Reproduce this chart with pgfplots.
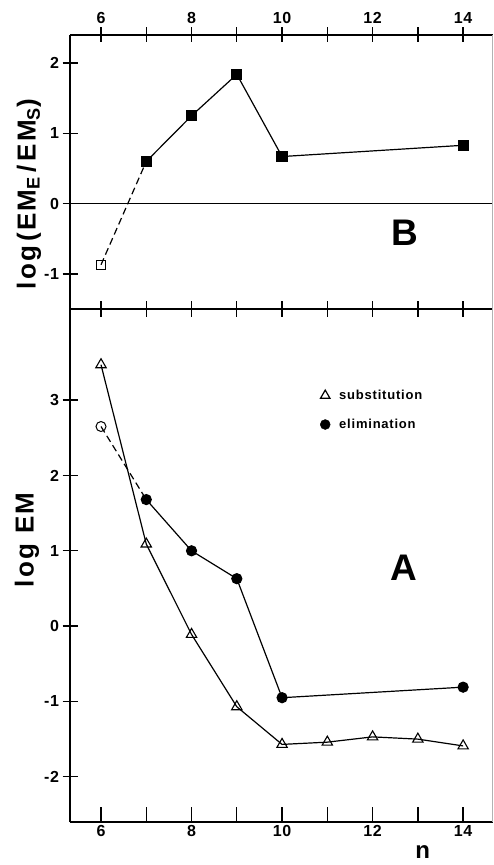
\documentclass[border=0pt]{standalone}
\usepackage{fontspec}
\setmainfont{Liberation Sans}
\usepackage{pgfplots}
\pgfplotsset{compat=1.18}
\pgfplotsset{
  common/.style={
    scale only axis,
    width=423pt,
    xmin=5.315, xmax=14.66,
    tick align=inside,
    major tick length=15pt,
    every tick/.style={black, line width=1.3pt},
    tick label style={font=\fontsize{16}{16}\selectfont\bfseries\addfontfeature{LetterSpace=4}},
    xtick={6,...,14},
    xticklabels={6,,8,,10,,12,,14},
    minor tick num=0,
  },
  nolinearrows/.style={
    axis line style={-, line width=1.5pt},
    every outer x axis line/.append style={-},
    every outer y axis line/.append style={-},
    every inner x axis line/.append style={-},
    every inner y axis line/.append style={-},
    x axis line style={-}, y axis line style={-},
  }
}
\begin{document}
\begin{tikzpicture}[x=1pt,y=1pt]
\useasboundingbox (0,0) rectangle (493,865);
% ---------------- Panel A ----------------
\begin{axis}[common,
  at={(70pt,43pt)}, anchor=south west, height=513pt,
  ymin=-2.6, ymax=4.21,
  axis x line=box, axis y line=left, nolinearrows,
  xtick pos=bottom,
  ytick={-2,-1,0,1,2,3}, yticklabels={-2,-1,0,1,2,3},
  ylabel={log EM},
  ylabel style={font=\fontsize{26}{26}\selectfont\bfseries\addfontfeature{LetterSpace=9},
    at={(axis description cs:-0.102,0.55)}, anchor=center},
  xlabel={n},
  xlabel style={font=\fontsize{24}{24}\selectfont\bfseries, inner sep=0pt, text depth=0pt,
    at={(axis description cs:0.834,-0.072)}, anchor=south},
  legend style={draw=none, fill=none, at={(axis description cs:0.584,0.85)}, anchor=north west,
    font=\fontsize{13}{13}\selectfont\bfseries\addfontfeature{LetterSpace=6}, row sep=14pt, column sep=7pt},
  legend cell align=left,
]
\addlegendimage{only marks, mark=triangle, mark size=5.5pt, mark options={line width=1.2pt, fill=white}}
\addlegendentry{substitution}
\addlegendimage{only marks, mark=*, mark size=5pt}
\addlegendentry{elimination}
% elimination dashed part
\addplot[forget plot, black, line width=1.2pt, dash pattern=on 7pt off 4pt] coordinates {(6,2.65) (7,1.68)};
% substitution
\addplot[forget plot, black, line width=1.2pt, mark=triangle, mark size=6pt, mark options={solid, fill=white, line width=1.1pt}]
  coordinates {(6,3.47) (7,1.09) (8,-0.11) (9,-1.07) (10,-1.57) (11,-1.54) (12,-1.47) (13,-1.50) (14,-1.59)};
% elimination solid part
\addplot[forget plot, black, line width=1.2pt, mark=*, mark size=5pt]
  coordinates {(7,1.68) (8,1.00) (9,0.63) (10,-0.95) (14,-0.81)};
\addplot[forget plot, only marks, black, mark=o, mark size=5pt, mark options={fill=white, line width=1pt}]
  coordinates {(6,2.65)};
\node[font=\fontsize{37}{37}\selectfont\bfseries] at (axis cs:12.70,0.77) {A};
\end{axis}
% ---------------- separator ticks ----------------
\begin{axis}[common,
  at={(70pt,556pt)}, anchor=west, height=20pt,
  ymin=-1, ymax=1,
  axis x line=middle, axis y line=none, nolinearrows,
  xticklabels={},
  tick align=center, major tick length=16pt,
]
\end{axis}
% ---------------- Panel B ----------------
\begin{axis}[common,
  at={(70pt,556pt)}, anchor=south west, height=274pt,
  ymin=-1.5, ymax=2.4,
  axis x line=top, axis y line=left, nolinearrows,
  ytick={-1,0,1,2}, yticklabels={-1,0,1,2},
  ylabel={log\,(EM\textsubscript{E}\,/\,EM\textsubscript{S})},
  ylabel style={font=\fontsize{26}{26}\selectfont\bfseries\addfontfeature{LetterSpace=8},
    at={(axis description cs:-0.097,0.42)}, anchor=center},
]
\addplot[black, line width=1.2pt] coordinates {(5.315,0) (14.66,0)};
\addplot[black, line width=1.2pt, dash pattern=on 7pt off 4pt] coordinates {(6,-0.87) (7,0.60)};
\addplot[black, line width=1.2pt, mark=square*, mark size=5pt]
  coordinates {(7,0.60) (8,1.25) (9,1.84) (10,0.67) (14,0.83)};
\addplot[only marks, black, mark=square, mark size=4.5pt, mark options={fill=white, line width=1pt}]
  coordinates {(6,-0.87)};
\node[font=\fontsize{37}{37}\selectfont\bfseries] at (axis cs:12.72,-0.42) {B};
\end{axis}
\draw[black!30, line width=0.6pt] (492.5,43) -- (492.5,830);
\end{tikzpicture}
\end{document}
